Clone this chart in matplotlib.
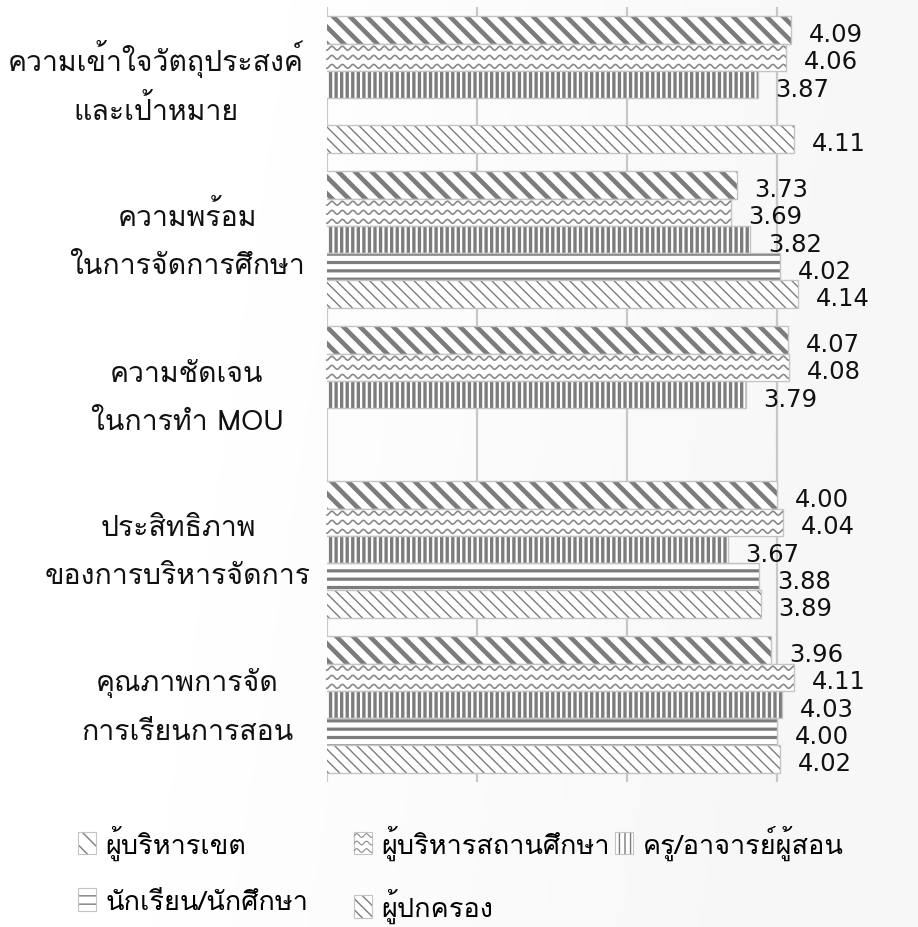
import numpy as np
import matplotlib
matplotlib.use("Agg")
import matplotlib.pyplot as plt
from matplotlib import font_manager, ft2font
from matplotlib.patches import Patch, Rectangle
from matplotlib.lines import Line2D
from matplotlib.legend_handler import HandlerPatch
from matplotlib.transforms import blended_transform_factory


def find_thai_font():
    # look for any installed font that has Thai glyphs
    for f in font_manager.fontManager.ttflist:
        try:
            cmap = ft2font.FT2Font(f.fname).get_charmap()
        except Exception:
            continue
        if 0x0E01 in cmap and 0x0E49 in cmap:
            return f.name
    return None


thai = find_thai_font()
families = ([thai] if thai else []) + ["DejaVu Sans"]
plt.rcParams["font.family"] = families

categories = [
    "ความเข้าใจวัตถุประสงค์\nและเป้าหมาย",
    "ความพร้อม\nในการจัดการศึกษา",
    "ความชัดเจน\nในการทำ MOU",
    "ประสิทธิภาพ\nของการบริหารจัดการ",
    "คุณภาพการจัด\nการเรียนการสอน",
]
series_names = [
    "ผู้บริหารเขต",
    "ผู้บริหารสถานศึกษา",
    "ครู/อาจารย์ผู้สอน",
    "นักเรียน/นักศึกษา",
    "ผู้ปกครอง",
]
nan = np.nan
district_admin = [4.09, 3.73, 4.07, 4.00, 3.96]
school_admin = [4.06, 3.69, 4.08, 4.04, 4.11]
teachers = [3.87, 3.82, 3.79, 3.67, 4.03]
students = [nan, 4.02, nan, 3.88, 4.00]
parents = [4.11, 4.14, nan, 3.89, 4.02]
values = [district_admin, school_admin, teachers, students, parents]

hatches = ["\\\\", "", "|||", "--", "\\\\\\"]
hatch_lw = [3.3, 1.0, 2.4, 2.3, 1.0]
hatch_col = "#7c7c7c"
wave_col = "#8a8a8a"
edge_col = "#c4c4c4"


def style_hatch(p, j):
    p._hatch_color = matplotlib.colors.to_rgba(hatch_col)
    if hasattr(p, "set_hatch_linewidth"):
        p.set_hatch_linewidth(hatch_lw[j])


class WaveHandler(HandlerPatch):
    # legend key with the wavy fill
    def create_artists(self, legend, orig_handle, xdescent, ydescent,
                       width, height, fontsize, trans):
        r = Rectangle((-xdescent, -ydescent), width, height, facecolor="white",
                      edgecolor=edge_col, linewidth=0.8, transform=trans)
        arts = [r]
        xs = np.linspace(-xdescent, -xdescent + width, 60)
        for k in range(3):
            yc = -ydescent + height * (k + 0.5) / 3
            ys = yc + 1.3 * np.sin((xs + xdescent) / 7.0 * 2 * np.pi)
            arts.append(Line2D(xs, ys, color=wave_col, lw=0.8, transform=trans))
        return arts


fig = plt.figure(figsize=(9.18, 9.28), dpi=100)
fig.patch.set_facecolor("white")

# faint background gradient
bg = fig.add_axes([0, 0, 1, 1], zorder=-10)
gx = np.linspace(0, 1, 200)
GX, GY = np.meshgrid(gx, gx)
grad = 1 - 0.035 * np.clip(GX * 1.3 - 0.3 + GY * 0.2, 0, 1)
bg.imshow(grad, cmap="gray", vmin=0, vmax=1, aspect="auto",
          extent=[0, 1, 0, 1], interpolation="bilinear")
bg.set_xlim(0, 1)
bg.set_ylim(0, 1)
bg.axis("off")

ax = fig.add_axes([327 / 918, 1 - 783 / 928, 1 - 327 / 918, (783 - 8) / 928])
ax.patch.set_alpha(0)

n = len(series_names)
bar_h = 0.1755
y = np.arange(len(categories))
px = 1 / 155  # one pixel in y data units

handles = []
for j in range(n):
    pos = y + (j - (n - 1) / 2) * bar_h
    vals = np.array(values[j], dtype=float)
    bars = ax.barh(pos, vals, height=bar_h, color="white", edgecolor=edge_col,
                   linewidth=1.0, hatch=hatches[j], zorder=3)
    for b in bars:
        style_hatch(b, j)
    if j == 1:
        # wavy pattern drawn inside each bar
        for b, v in zip(bars, vals):
            if np.isnan(v):
                continue
            xs = np.linspace(0, v, 1500)
            for k in range(3):
                yc = b.get_y() + b.get_height() * (k + 0.5) / 3
                ys = yc + 0.0125 * np.sin(xs / 0.07 * 2 * np.pi)
                ln, = ax.plot(xs, ys, color=wave_col, lw=1.2, zorder=4)
                ln.set_clip_path(b)
    for b, v in zip(bars, vals):
        if np.isnan(v):
            continue
        ax.annotate(f"{v:.2f}", (v, b.get_y() + b.get_height() / 2),
                    xytext=(13, -3), textcoords="offset points",
                    ha="left", va="center", fontsize=17.5,
                    family="DejaVu Sans", color="#111111", zorder=5)
    h = Patch(facecolor="white", edgecolor=edge_col, hatch=hatches[j], linewidth=0.8)
    style_hatch(h, j)
    handles.append(h)

ax.set_xlim(1, 1 + (918 - 327) / 150)
ax.set_ylim(len(categories) - 0.5, -0.5)
ax.set_xticks([1, 2, 3, 4])
ax.set_xticklabels([])
ax.tick_params(axis="x", length=0)
ax.grid(axis="x", color="#c8c8c8", linewidth=1.6, zorder=0)
for s in ax.spines.values():
    s.set_visible(False)

ax.set_yticks(y)
ax.set_yticklabels([])
ax.tick_params(axis="y", length=0)

# category labels, two lines each, with even baselines
label_x = [156, 187, 187, 178, 187]
tr = blended_transform_factory(fig.transFigure, ax.transData)
for yi, (cat, lx) in enumerate(zip(categories, label_x)):
    l1, l2 = cat.split("\n")
    ax.text(lx / 918, yi - 14 * px, l1, transform=tr, ha="center",
            va="baseline", fontsize=20.5, color="#111111")
    ax.text(lx / 918, yi + 34 * px, l2, transform=tr, ha="center",
            va="baseline", fontsize=20.5, color="#111111")

# legend: three columns placed like the original
leg_cols = [([0, 3], 54), ([1, 4], 330), ([2], 591)]
for idx, xpx in leg_cols:
    hm = {handles[1]: WaveHandler()}
    fig.legend([handles[i] for i in idx], [series_names[i] for i in idx],
               loc="upper left", bbox_to_anchor=(xpx / 918, 1 - 801 / 928),
               frameon=False, fontsize=19.5, handlelength=0.65, handleheight=0.9,
               handletextpad=0.35, labelspacing=1.05, handler_map=hm)

fig.savefig("out.png", dpi=100)
